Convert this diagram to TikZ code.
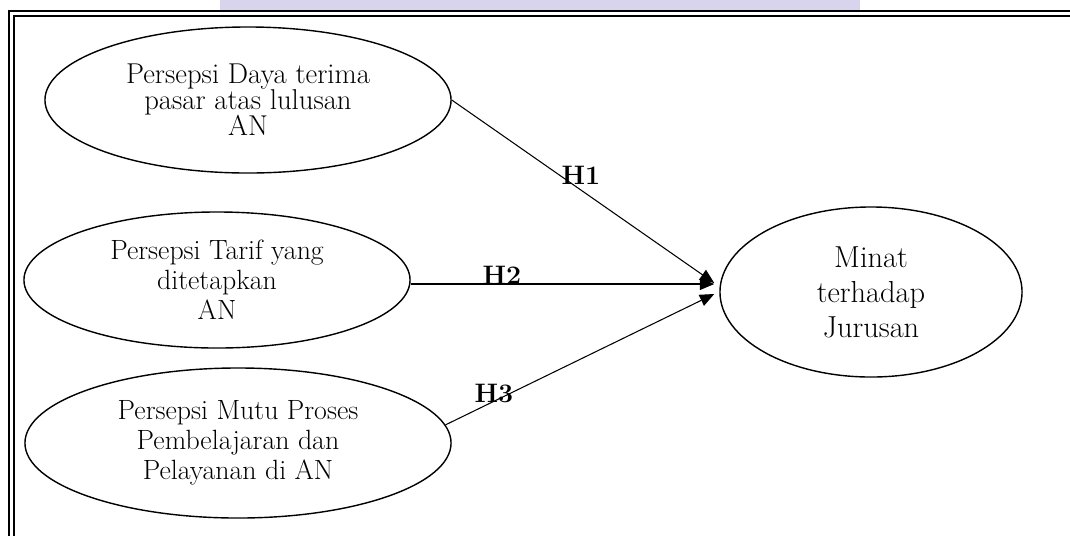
\documentclass[tikz,border=0pt]{standalone}
\usetikzlibrary{shapes.geometric,arrows.meta}
\definecolor{wmlav}{RGB}{217,212,237}
\begin{document}
\begin{tikzpicture}[x=0.025cm, y=-0.025cm,
    var/.style={draw, ellipse, line width=1pt, align=center, inner sep=0pt},
    hyp/.style={font=\fontsize{19}{19}\selectfont\bfseries},
    arr/.style={-{Triangle[length=3.6mm,width=3mm]}, line width=0.75pt}]
    \useasboundingbox (0,0) rectangle (1070,535);
    \clip (0,0) rectangle (1070,535);
    \fill[wmlav] (220,0) rectangle (860,10);

    % double frame
    \draw[line width=1.8pt] (9,11) rectangle (1090,560);
    \draw[line width=0.9pt] (14,16) rectangle (1085,555);

    \node[var, minimum width=10.15cm, minimum height=3.65cm,
        font=\fontsize{20.4}{18.5}\selectfont] (daya) at (248,100)
        {Persepsi Daya terima\\pasar atas lulusan\\AN};
    \node[var, minimum width=9.65cm, minimum height=3.4cm,
        font=\fontsize{19.8}{21.3}\selectfont] (tarif) at (217,280)
        {Persepsi Tarif yang\\ditetapkan\\AN};
    \node[var, minimum width=10.65cm, minimum height=3.75cm,
        font=\fontsize{19.8}{21.3}\selectfont] (mutu) at (238,443)
        {Persepsi Mutu Proses\\Pembelajaran dan\\Pelayanan di AN};
    \node[var, minimum width=7.55cm, minimum height=4.25cm,
        font=\fontsize{21.6}{24.9}\selectfont] (minat) at (871,292)
        {Minat\\terhadap\\Jurusan};

    \draw[arr] (daya.east) -- ([shift={(-5,-9)}]minat.west);
    \draw[arr] ([shift={(0,4)}]tarif.east) -- ([shift={(-5,-8)}]minat.west);
    \draw[arr] (mutu.5) -- ([shift={(-5,2)}]minat.west);

    \node[hyp] (h1) at (581,175) {H1};
    \node[hyp] (h2) at (502,275) {H2};
    \node[hyp] (h3) at (494,393) {H3};
\end{tikzpicture}
\end{document}
